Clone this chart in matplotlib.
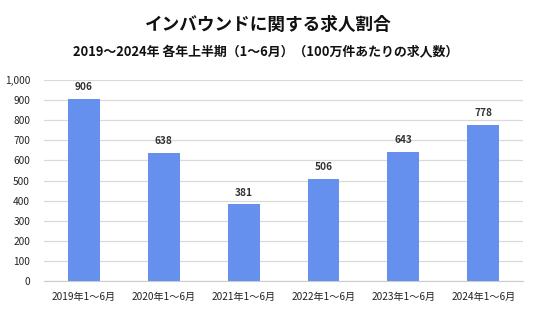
import matplotlib
matplotlib.use("Agg")
import matplotlib.pyplot as plt
from matplotlib.ticker import FuncFormatter

plt.rcParams["font.family"] = ["Noto Sans CJK JP", "DejaVu Sans"]

categories = ["2019年1〜6月", "2020年1〜6月", "2021年1〜6月", "2022年1〜6月", "2023年1〜6月", "2024年1〜6月"]
values = [906, 638, 381, 506, 643, 778]
yticks = [0, 100, 200, 300, 400, 500, 600, 700, 800, 900, 1000]

bar_color = "#6690ee"
grid_color = "#d9d9d9"
text_color = "#222222"

fig = plt.figure(figsize=(5.36, 3.14), dpi=100)
ax = fig.add_axes([0.082, 0.105, 0.894, 0.64])

x = range(len(categories))
ax.bar(x, values, width=0.4, color=bar_color, zorder=3)
for xi, v in zip(x, values):
    ax.annotate(str(v), (xi, v), xytext=(0, 5), textcoords="offset points",
                ha="center", va="bottom", fontsize=7.3, fontweight="bold", color="#333333")

ax.set_xlim(-0.5, len(categories) - 0.5)
ax.set_ylim(0, 1000)
ax.set_yticks(yticks)
ax.yaxis.set_major_formatter(FuncFormatter(lambda v, _: f"{int(v):,}"))
ax.set_xticks(list(x))
ax.set_xticklabels(categories)
ax.tick_params(axis="both", length=0, labelsize=7.3, colors=text_color)
ax.tick_params(axis="x", pad=8)
ax.tick_params(axis="y", pad=10)
ax.grid(axis="y", color=grid_color, linewidth=0.9, zorder=0)
for side in ("top", "right", "left"):
    ax.spines[side].set_visible(False)
ax.spines["bottom"].set_color("#cccccc")

fig.text(0.5, 0.92, "インバウンドに関する求人割合", ha="center", va="center",
         fontsize=12.7, fontweight="bold", color="#111111")
fig.text(0.496, 0.835, "2019〜2024年 各年上半期（1〜6月）（100万件あたりの求人数）",
         ha="center", va="center", fontsize=9.3, fontweight="bold", color="#111111")

fig.savefig("out.png", dpi=100, facecolor="white")
